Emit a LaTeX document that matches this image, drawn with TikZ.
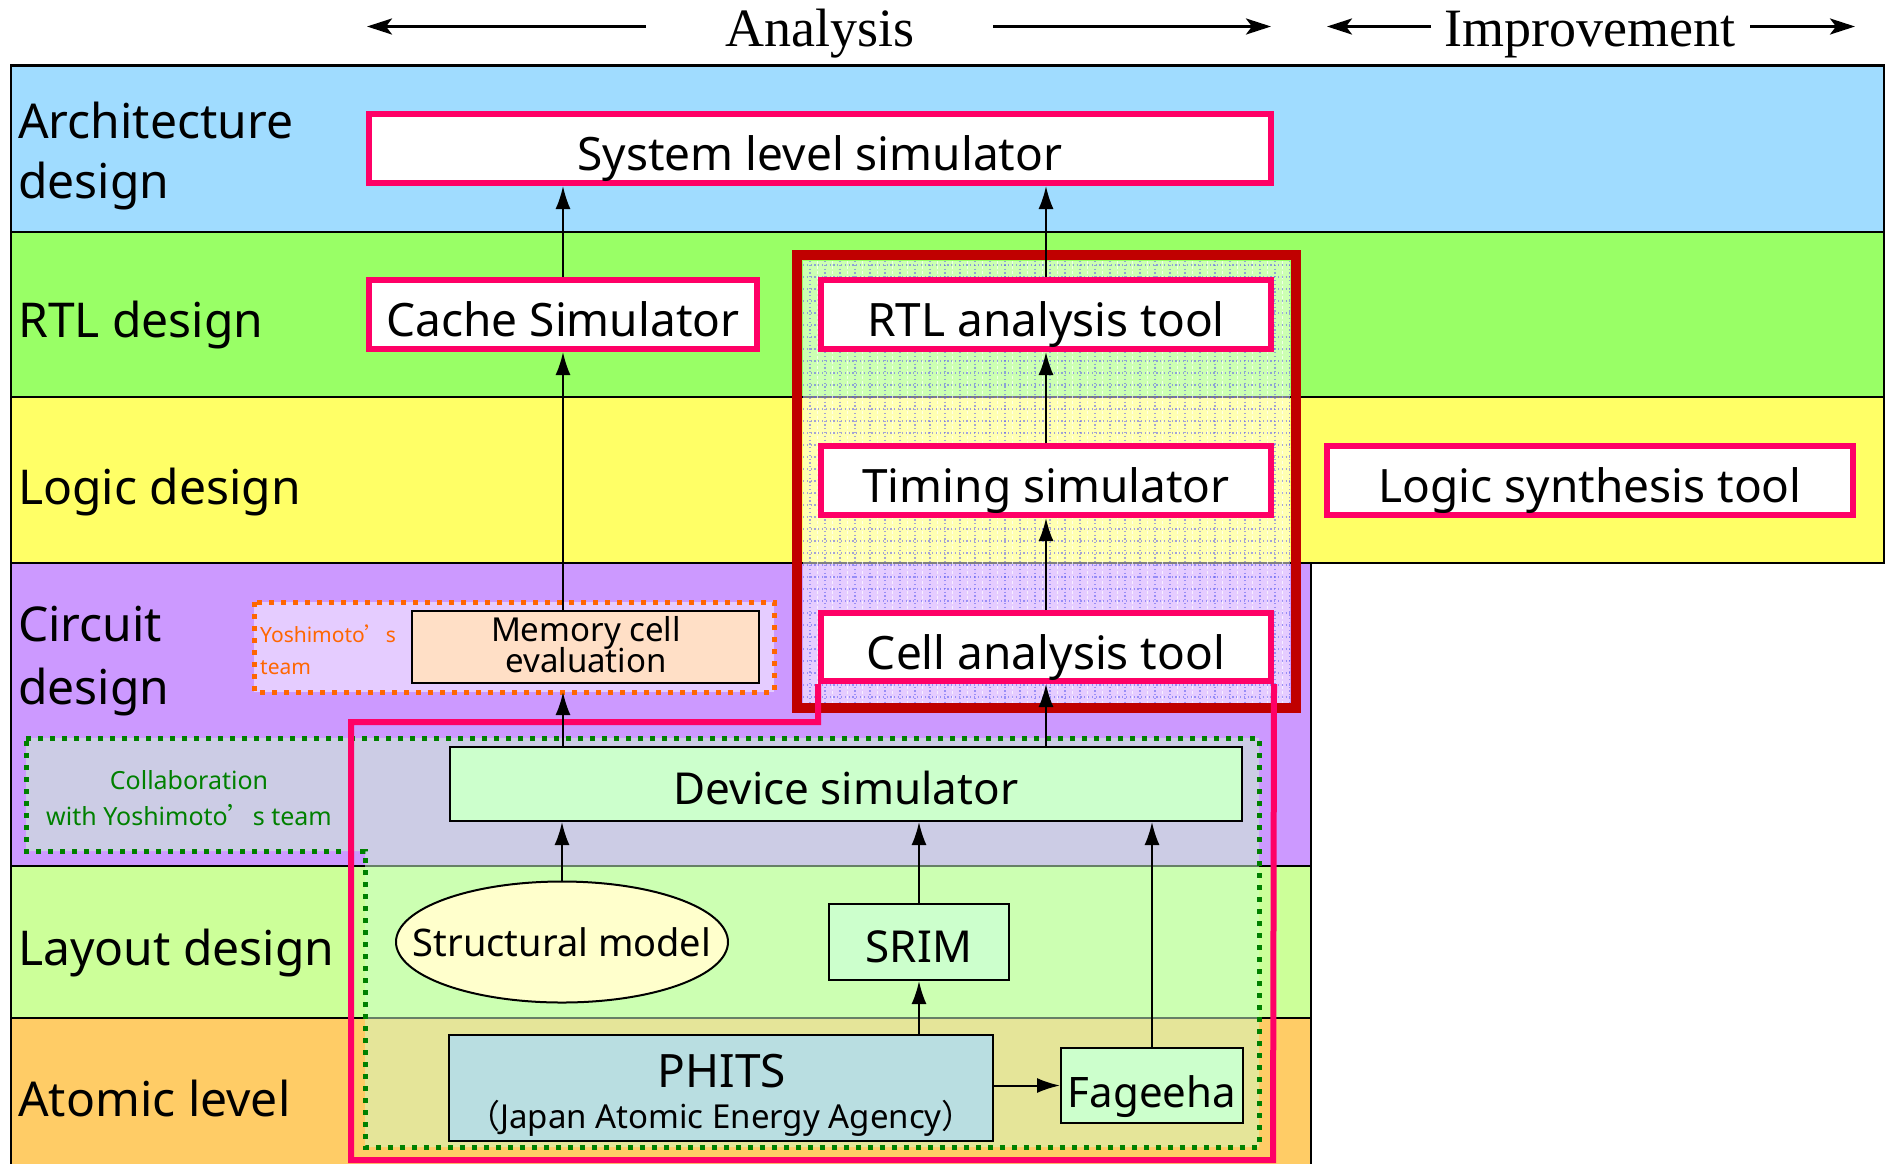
\documentclass[tikz,border=0pt]{standalone}
\usepackage{fontspec}
\setmainfont{Noto Sans}
\newfontfamily\cjk{Noto Sans CJK JP}
\newfontfamily\cjkfw[RawFeature=+fwid]{Noto Sans CJK JP}
\newfontfamily\hdfont{Liberation Serif}
\usetikzlibrary{arrows.meta,shapes.geometric}
\newcommand\fsz[1]{\fontsize{#1}{#1}\selectfont}
\definecolor{archc}{HTML}{A0DCFF}
\definecolor{rtlc}{HTML}{99FF66}
\definecolor{logc}{HTML}{FFFF66}
\definecolor{circc}{HTML}{CC99FF}
\definecolor{layc}{HTML}{CCFF99}
\definecolor{atomc}{HTML}{FFCC66}
\definecolor{pinkc}{HTML}{FF0066}
\definecolor{darkredc}{HTML}{C00000}
\definecolor{greend}{HTML}{008000}
\definecolor{orangec}{HTML}{FF6600}
\definecolor{lgreen}{HTML}{CCFFCC}
\definecolor{peach}{HTML}{FFDFC6}
\definecolor{phitsc}{HTML}{B9DEE1}
\definecolor{ellc}{HTML}{FFFFCC}
\definecolor{gridc}{HTML}{5A5AF0}
\begin{document}
\begin{tikzpicture}[x=1pt,y=-1pt,
  band/.style={draw=black, line width=1.5pt},
  pbox/.style={draw=pinkc, line width=6pt, fill=white, inner sep=0pt,
    minimum width=#1, minimum height=69pt, text height=44pt, text depth=0pt,
    font=\fsz{46}},
  gbox/.style={draw=black, line width=2pt, fill=lgreen, inner sep=0pt, font=\fsz{44}},
  blab/.style={anchor=base west, inner sep=0pt, font=\fsz{48}},
  conn/.style={line width=2pt, -{Latex[length=23pt,width=15pt]}},
  hdarrow/.style={line width=3pt, -{Stealth[length=25pt,width=16pt,inset=6pt]}},
  gdots/.style={draw=greend, line width=5pt, dash pattern=on 5pt off 7pt},
  odots/.style={draw=orangec, line width=5pt, dash pattern=on 5pt off 7pt},
  gridl/.style={gridc, opacity=0.55, line width=1.2pt, dash pattern=on 1.2pt off 2.6pt},
  txt/.style={inner sep=0pt, anchor=base}
]
\useasboundingbox (0,0) rectangle (1886,1163);
% bands
\fill[archc] (11,65) rectangle (1884,232);
\fill[rtlc] (11,232) rectangle (1884,397);
\fill[logc] (11,397) rectangle (1884,563);
\fill[circc] (11,563) rectangle (1311,866);
\fill[layc] (11,866) rectangle (1311,1018);
\fill[atomc] (11,1018) rectangle (1311,1175);
\draw[band] (11,65) rectangle (1884,232);
\draw[band] (11,232) rectangle (1884,397);
\draw[band] (11,397) rectangle (1884,563);
\draw[band] (11,563) rectangle (1311,866);
\draw[band] (11,866) rectangle (1311,1018);
\draw[band] (11,1018) rectangle (1311,1175);
\draw[line width=3pt] (11,65) -- (1884,65);
% band labels
\node[blab] (l1a) at (18,138) {Architecture};
\node[blab] (l1b) at (18,198) {design};
\node[blab] (l2) at (18,337) {RTL design};
\node[blab] (l3) at (18,504) {Logic design};
\node[blab] (l4a) at (18,641) {Circuit};
\node[blab] (l4b) at (18,704) {design};
\node[blab] (l5) at (18,965) {Layout design};
\node[blab] (l6) at (18,1116) {Atomic level};
% headings
\node[txt, font=\hdfont\fsz{54}] (ana) at (820,46) {Analysis};
\node[txt, font=\hdfont\fsz{54}] (imp) at (1590,46) {Improvement};
\coordinate (a1s) at (646,26.5); \coordinate (a1e) at (367,26.5);
\coordinate (a2s) at (993,26.5); \coordinate (a2e) at (1271,26.5);
\coordinate (i1s) at (1431,26.5); \coordinate (i1e) at (1327,26.5);
\coordinate (i2s) at (1750,26.5); \coordinate (i2e) at (1855,26.5);
\draw[hdarrow] (a1s) -- (a1e);
\draw[hdarrow] (a2s) -- (a2e);
\draw[hdarrow] (i1s) -- (i1e);
\draw[hdarrow] (i2s) -- (i2e);
% overlays
\begin{scope}
\clip (803,261) rectangle (1290,703);
\fill[white, opacity=0.5] (803,261) rectangle (1290,703);
\foreach \x in {810,825,...,1290} \draw[white, opacity=0.7, line width=1.2pt, dash pattern=on 3pt off 2pt] (\x+7.5,261) -- (\x+7.5,703);
\foreach \x in {810,825,...,1290} \draw[gridl] (\x,261) -- (\x,703);
\foreach \y in {265,277,...,703} \draw[gridl] (803,\y) -- (1290,\y);
\end{scope}
\fill[white, opacity=0.5] (254,602) rectangle (774,692);
\fill[lgreen, opacity=0.5] (26,738) -- (1259,738) -- (1259,1147) -- (365,1147) -- (365,851) -- (26,851) -- cycle;
% red frame
\draw[darkredc, line width=10pt] (797,255) rectangle (1296,708);
% boxes
\node[pbox=902pt] (sys) at (820,148.5) {System level simulator};
\node[pbox=388pt] (cache) at (563,314.5) {Cache Simulator};
\node[pbox=450pt] (rtl) at (1046,314.5) {RTL analysis tool};
\node[pbox=450pt] (timing) at (1046,480.5) {Timing simulator};
\node[pbox=526pt] (logsyn) at (1590,480.5) {Logic synthesis tool};
\node[pbox=450pt, minimum height=68pt] (cell) at (1046,647) {Cell analysis tool};
\node[draw=black, line width=2pt, fill=peach, inner sep=0pt, minimum width=347pt, minimum height=72pt] (mem) at (585.5,647) {};
\node[txt, font=\fsz{33}] (memt1) at (586,641) {Memory cell};
\node[txt, font=\fsz{33}] (memt2) at (586,672) {evaluation};
\node[gbox, minimum width=792pt, minimum height=74pt, text height=40pt, text depth=0pt] (dev) at (846,784) {Device simulator};
\node[ellipse, draw=black, line width=2pt, fill=ellc, minimum width=332pt, minimum height=121pt, inner sep=0pt] (struct) at (562,942) {};
\node[txt, font=\fsz{38}] (structt) at (562,956) {Structural model};
\node[gbox, minimum width=180pt, minimum height=76pt, text height=40pt, text depth=0pt] (srim) at (919,942) {SRIM};
\node[draw=black, line width=2pt, fill=phitsc, inner sep=0pt, minimum width=544pt, minimum height=106pt] (phits) at (721,1088) {};
\node[txt, font=\fsz{46}] (phitst) at (722,1087) {PHITS};
\node[txt, font=\fsz{33}] (jaea) at (721,1128) {{\cjk （}Japan Atomic Energy Agency{\cjk ）}};
\node[gbox, font=\fsz{42}, minimum width=182pt, minimum height=75pt, text height=43pt, text depth=0pt] (fag) at (1152,1085.5) {Fageeha};
% team texts
\node[anchor=base west, inner sep=0pt, font=\fsz{21}, text=orangec] (yt1) at (260,642) {Yoshimoto{\cjkfw ’}s};
\node[anchor=base west, inner sep=0pt, font=\fsz{21}, text=orangec] (yt2) at (260,674) {team};
\node[txt, font=\fsz{25}, text=greend] (col1) at (189,789) {Collaboration};
\node[txt, font=\fsz{25}, text=greend] (col2) at (189,825) {with Yoshimoto{\cjkfw ’}s team};
% dotted outlines
\draw[odots] (254,602) rectangle (774,692);
\coordinate (yteam) at (563,692);
\draw[gdots] (26,738) -- (1259,738) -- (1259,1147) -- (365,1147) -- (365,851) -- (26,851) -- cycle;
% pink frame
\draw[pinkc, line width=6pt] (cell.south west) |- (351,722) -- (351,1160) -- (1273,1160) -- (cell.south east);
% connectors
\draw[conn] (cache.north) -- (cache.north |- sys.south);
\draw[conn] (rtl.north) -- (rtl.north |- sys.south);
\draw[conn] (timing.north) -- (rtl.south);
\draw[conn] (cell.north) -- (timing.south);
\draw[conn] (cell.south |- dev.north) -- (cell.south);
\draw[conn] (cache.south |- mem.north) -- (cache.south);
\draw[conn] (cache.south |- dev.north) -- (yteam);
\draw[conn] (struct.north) -- (struct.north |- dev.south);
\draw[conn] (srim.north) -- (srim.north |- dev.south);
\draw[conn] (srim.south |- phits.north) -- (srim.south);
\draw[conn] (phits.east |- fag.west) -- (fag.west);
\draw[conn] (fag.north) -- (fag.north |- dev.south);
\end{tikzpicture}
\end{document}
